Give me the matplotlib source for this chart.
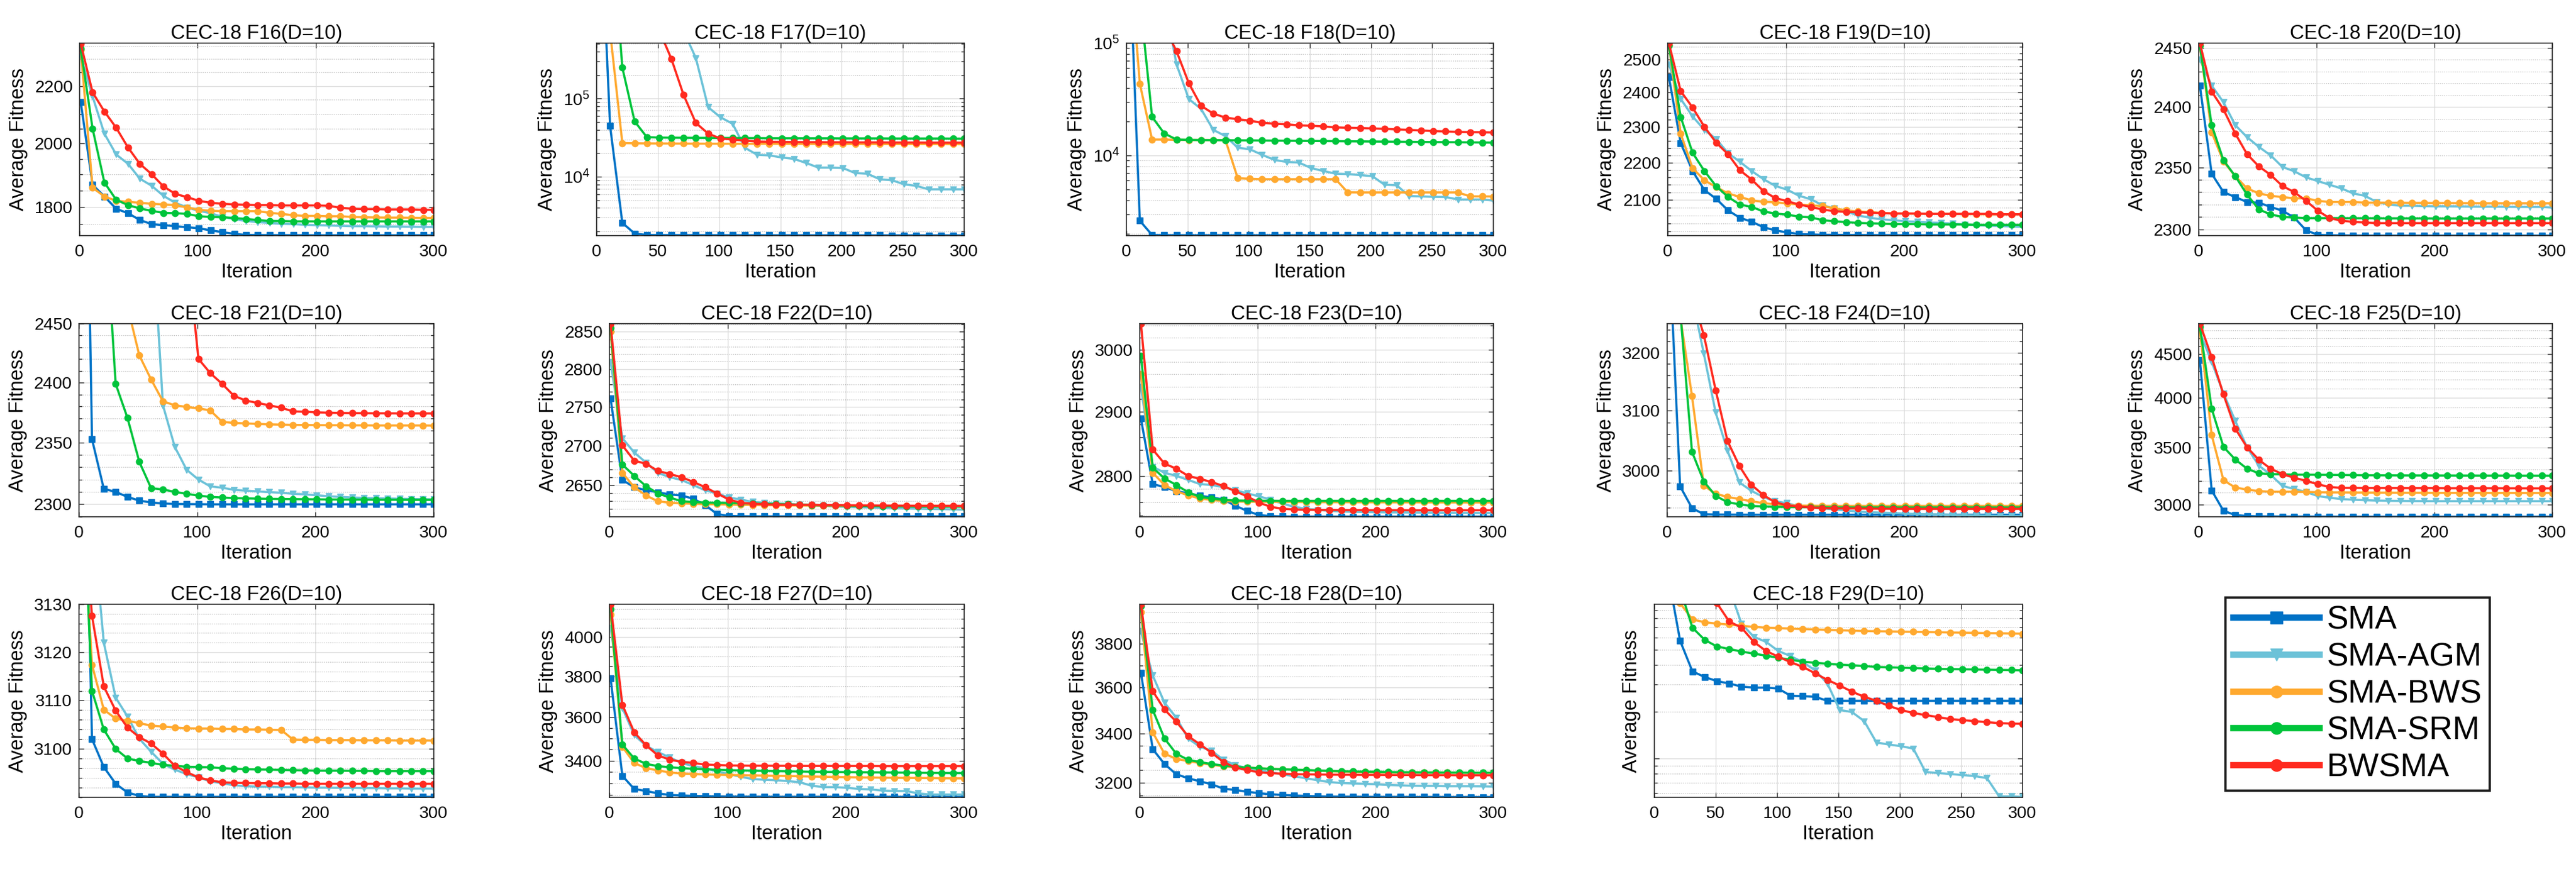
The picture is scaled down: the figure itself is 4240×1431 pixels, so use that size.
import numpy as np
import matplotlib
matplotlib.use('Agg')
import matplotlib.pyplot as plt
from matplotlib import ticker

plt.rcParams['font.family'] = ['Liberation Sans', 'DejaVu Sans']
plt.rcParams['mathtext.fontset'] = 'custom'
plt.rcParams['mathtext.rm'] = 'Liberation Sans'
plt.rcParams['mathtext.it'] = 'Liberation Sans:italic'

# ---------------- data ----------------
ITER = list(range(1, 300, 10)) + [300]
ALGOS = ['SMA', 'SMA-AGM', 'SMA-BWS', 'SMA-SRM', 'BWSMA']
FUNCS = ['F16', 'F17', 'F18', 'F19', 'F20', 'F21', 'F22', 'F23', 'F24', 'F25',
         'F26', 'F27', 'F28', 'F29']

F16_SMA = [2142, 1868, 1832, 1795, 1782, 1762, 1750, 1747, 1744, 1741, 1738, 1732, 1727, 1722, 1719,
           1718.6, 1718.4, 1718.3, 1718.2, 1718.1, 1718, 1718, 1718, 1718, 1718, 1718, 1718, 1718, 1718, 1718, 1718]
F16_AGM = [2311, 2162, 2033, 1964, 1934, 1887, 1865, 1834, 1813, 1799, 1789, 1782, 1771, 1765, 1759, 1756,
           1753, 1751, 1750, 1748, 1747, 1746, 1745, 1744, 1744, 1743.5, 1743, 1743, 1742.5, 1742, 1742]
F16_BWS = [2335, 1859, 1832, 1819, 1816, 1813, 1810, 1808, 1806, 1799, 1792, 1789, 1788, 1788, 1788, 1788,
           1783, 1780, 1776, 1774, 1774, 1773, 1773, 1771, 1770, 1769.5, 1769, 1769, 1768.5, 1768, 1768]
F16_SRM = [2340, 2050, 1875, 1822, 1806, 1796, 1789, 1783, 1782, 1780, 1773, 1771, 1770, 1768, 1765, 1762,
           1759, 1759, 1758, 1758, 1758, 1758, 1758, 1758, 1758, 1758, 1758, 1758, 1758, 1758, 1758]
F16_BWSMA = [2360, 2177, 2109, 2053, 1987, 1934, 1901, 1863, 1840, 1830, 1819, 1813, 1810, 1808, 1807, 1806,
             1806, 1805, 1805, 1805, 1805, 1804, 1798, 1795, 1794, 1794, 1793, 1793, 1793, 1792, 1792]

F17_SMA = [1.5e8, 44600, 2570, 1880, 1800, 1795, 1793, 1791, 1790, 1789, 1788, 1787, 1786, 1786, 1785, 1785,
           1784, 1784, 1783, 1783, 1783, 1782, 1782, 1782, 1781, 1781, 1781, 1780, 1780, 1780, 1780]
F17_AGM = [1e8, 5e7, 2e7, 1e7, 5e6, 3e6, 1.5e6, 7.3e5, 330000, 77800, 57700, 47600, 23500, 19100, 18750, 17660,
           16930, 15010, 13090, 13090, 12930, 11140, 10940, 9300, 9030, 8010, 7640, 6900, 6900, 6900, 6900]
F17_BWS = [1e8, 7.2e5, 27000, 26800, 26700, 26650, 26600, 26550, 26500, 26500, 26450, 26450, 26400, 26400,
           26400, 26350, 26350, 26300, 26300, 26300, 26250, 26250, 26250, 26200, 26200, 26200, 26200, 26150,
           26150, 26100, 26100]
F17_SRM = [1e8, 3e7, 249000, 51200, 32100, 31700, 31600, 31500, 31400, 31400, 31300, 31300, 31200, 31200,
           31100, 31100, 31100, 31000, 31000, 31000, 30900, 30900, 30900, 30900, 30800, 30800, 30800, 30800,
           30800, 30700, 30700]
F17_BWSMA = [1e8, 5e7, 1e7, 5e6, 2e6, 7.5e5, 323000, 111000, 48800, 35700, 30800, 29900, 29000, 28200, 28000,
             27900, 27800, 27700, 27700, 27600, 27600, 27500, 27500, 27500, 27400, 27400, 27400, 27300, 27300,
             27300, 27300]

F18_SMA = [1.7e6, 2620, 1955, 1948, 1946, 1945, 1945, 1945, 1945, 1945, 1945, 1945, 1945, 1945, 1945, 1945,
           1945, 1945, 1945, 1945, 1945, 1945, 1945, 1945, 1945, 1945, 1945, 1945, 1945, 1945, 1945]
F18_AGM = [1e6, 7e5, 4e5, 2.5e5, 64600, 31800, 26000, 16900, 14850, 11720, 11330, 10120, 9120, 8750, 8640,
           7720, 7260, 6880, 6820, 6680, 6540, 5490, 5420, 4350, 4315, 4280, 4260, 4050, 4050, 4050, 3970]
F18_BWS = [1e6, 43500, 13840, 13840, 13750, 13720, 13700, 13700, 13690, 6270, 6190, 6140, 6140, 6140, 6140,
           6140, 6140, 6140, 4690, 4680, 4680, 4680, 4680, 4680, 4680, 4680, 4680, 4680, 4320, 4315, 4310]
F18_SRM = [1e6, 2.5e5, 22070, 15670, 13840, 13750, 13700, 13680, 13650, 13620, 13600, 13570, 13540, 13510,
           13480, 13450, 13420, 13390, 13360, 13330, 13300, 13270, 13240, 13210, 13180, 13150, 13120, 13090,
           13060, 13030, 13000]
F18_BWSMA = [1e6, 5e5, 2.5e5, 1.4e5, 84700, 44000, 27700, 23580, 21700, 21000, 20370, 19540, 19150, 18920,
             18530, 18370, 18130, 17770, 17620, 17540, 17390, 17250, 17040, 16890, 16680, 16470, 16340, 16200,
             16130, 16070, 16000]

F19_SMA = [2446, 2254, 2177, 2126, 2103, 2073, 2054, 2044, 2030, 2022, 2017, 2013, 2012, 2011, 2011, 2010.5,
           2010.5, 2010.3, 2010.2, 2010.1, 2010, 2010, 2010, 2010, 2010, 2010, 2010, 2010, 2010, 2010, 2010]
F19_AGM = [2486, 2381, 2330, 2291, 2265, 2226, 2202, 2177, 2155, 2137, 2127, 2111, 2102, 2086, 2078, 2070,
           2060, 2054, 2050, 2048, 2045, 2044, 2042, 2041, 2039, 2037, 2035, 2034, 2033, 2032, 2031]
F19_BWS = [2547, 2280, 2185, 2152, 2134, 2117, 2108, 2099, 2095, 2094, 2091, 2088, 2086, 2084, 2078, 2073,
           2070, 2069, 2066, 2065, 2065, 2064.5, 2064, 2064, 2064, 2063.5, 2063.5, 2063, 2063, 2063, 2063]
F19_SRM = [2545, 2328, 2227, 2177, 2136, 2108, 2088, 2082, 2070, 2065, 2062, 2057, 2055, 2048, 2045, 2043,
           2041, 2040, 2039, 2038, 2038, 2038, 2037, 2037, 2037, 2037, 2036, 2036, 2036, 2036, 2036]
F19_BWSMA = [2552, 2404, 2356, 2300, 2255, 2223, 2179, 2154, 2123, 2105, 2097, 2088, 2082, 2075, 2071, 2069,
             2068, 2067, 2066, 2065, 2065, 2065, 2064, 2064, 2064, 2064, 2064, 2064, 2063, 2063, 2063]

F20_SMA = [2418, 2345, 2330, 2326, 2322, 2321.5, 2318, 2315, 2309.5, 2299.3, 2295.6, 2295.3, 2295.2, 2295.1,
           2295, 2295, 2295, 2295, 2295, 2295, 2295, 2295, 2295, 2295, 2295, 2295, 2295, 2295, 2295, 2295, 2295]
F20_AGM = [2440, 2418, 2404, 2385, 2375, 2367, 2360, 2350.5, 2347, 2342, 2339, 2336, 2333, 2329, 2327, 2322,
           2320, 2319, 2319, 2318.7, 2318.5, 2318.5, 2318.4, 2318.3, 2318.2, 2318.2, 2318.1, 2318, 2318, 2318,
           2317.5]
F20_BWS = [2452, 2379, 2355, 2343, 2333, 2329, 2327, 2326, 2325, 2325, 2323, 2322, 2322, 2322, 2321.5, 2321.5,
           2321.5, 2321.4, 2321.3, 2321.3, 2321.2, 2321.2, 2321.1, 2321.1, 2321, 2321, 2321, 2321, 2321, 2321,
           2321]
F20_SRM = [2452, 2385, 2356, 2343, 2328, 2316, 2312, 2310, 2309.5, 2309, 2309, 2309, 2309, 2308.9, 2308.9,
           2308.9, 2308.8, 2308.8, 2308.8, 2308.8, 2308.7, 2308.7, 2308.7, 2308.7, 2308.7, 2308.7, 2308.7,
           2308.7, 2308.7, 2308.7, 2308.7]
F20_BWSMA = [2454, 2413, 2398, 2378, 2361, 2351, 2344, 2335, 2330, 2323, 2315, 2309, 2307, 2306, 2305.5, 2305,
             2305, 2305, 2305, 2305, 2305, 2305, 2305, 2305, 2305, 2305, 2305, 2305, 2305, 2305, 2305]

F21_SMA = [3000, 2353, 2312.5, 2310, 2306, 2303, 2301.5, 2300.7, 2300.3, 2300.2, 2300.1, 2300, 2300, 2300,
           2300, 2300, 2300, 2300, 2300, 2300, 2300, 2300, 2300, 2300, 2300, 2300, 2300, 2300, 2300, 2300, 2300]
F21_AGM = [3000, 2900, 2800, 2700, 2650, 2600, 2551, 2381, 2346.7, 2328, 2320, 2314.5, 2313.4, 2311.7, 2311,
           2310.4, 2309.8, 2309.3, 2308.5, 2308, 2307.3, 2306.5, 2306, 2305.5, 2305.2, 2304.9, 2304.7, 2304.5,
           2304.3, 2304.1, 2304]
F21_BWS = [3000, 2800, 2600, 2520, 2465, 2423, 2402.6, 2384.4, 2381, 2379.7, 2378.5, 2376.8, 2367.3, 2366.4,
           2366, 2365.6, 2365.2, 2365, 2364.8, 2364.7, 2364.6, 2364.5, 2364.5, 2364.4, 2364.4, 2364.3, 2364.3,
           2364.3, 2364.3, 2364.3, 2364.2]
F21_SRM = [3000, 2800, 2564, 2399, 2370.6, 2334.5, 2313, 2312, 2310, 2308.5, 2307, 2306, 2305.5, 2305, 2304.8,
           2304.6, 2304.4, 2304.3, 2304.2, 2304.1, 2304, 2303.9, 2303.9, 2303.8, 2303.8, 2303.7, 2303.7, 2303.7,
           2303.6, 2303.6, 2303.6]
F21_BWSMA = [3000, 2950, 2900, 2850, 2800, 2750, 2700, 2650, 2600, 2520, 2420, 2408, 2399, 2389, 2385, 2383,
             2381, 2379, 2376, 2375.7, 2375.2, 2374.9, 2374.7, 2374.6, 2374.5, 2374.4, 2374.4, 2374.3, 2374.3,
             2374.3, 2374.3]

F22_SMA = [2761, 2656.5, 2647.4, 2643.5, 2641, 2638.3, 2637, 2633, 2625, 2614, 2611.5, 2611.2, 2611, 2611,
           2611, 2611, 2611, 2611, 2611, 2611, 2611, 2611, 2611, 2611, 2611, 2611, 2611, 2611, 2611, 2611, 2611]
F22_AGM = [2809.5, 2709.7, 2691.4, 2678.5, 2665.5, 2660, 2656.5, 2650, 2643.5, 2639.6, 2634.5, 2632, 2629,
           2628, 2627, 2626.7, 2625.4, 2624.6, 2624, 2623.3, 2622.8, 2622.3, 2622, 2621.5, 2621, 2620.7, 2620.5,
           2620.2, 2620, 2619.7, 2619.4]
F22_BWS = [2850, 2665.5, 2647.4, 2637, 2629.8, 2628, 2627.2, 2626.7, 2626.2, 2626, 2625.7, 2625.4, 2625.2,
           2625, 2624.8, 2624.6, 2624.5, 2624.4, 2624.3, 2624.2, 2624.1, 2624, 2624, 2623.9, 2623.9, 2623.8,
           2623.8, 2623.7, 2623.7, 2623.6, 2623.6]
F22_SRM = [2855, 2676, 2661.7, 2648.7, 2639.6, 2634.5, 2629.8, 2628.8, 2628.2, 2628, 2627.7, 2627.4, 2627,
           2626.7, 2626.4, 2626, 2625.6, 2625.2, 2624.9, 2624.6, 2624.3, 2624, 2623.8, 2623.6, 2623.4, 2623.3,
           2623.2, 2623.1, 2623, 2623, 2623]
F22_BWSMA = [2861, 2700.5, 2681, 2677, 2668, 2664, 2660, 2654, 2647.4, 2639.6, 2632, 2628, 2626.7, 2626,
             2625.6, 2625.6, 2625.3, 2625.3, 2625, 2625, 2624.8, 2624.7, 2624.6, 2624.5, 2624.4, 2624.3, 2624.2,
             2624.2, 2624.1, 2624.1, 2624]

F23_SMA = [2889, 2787.5, 2782.8, 2776.6, 2773.4, 2769.7, 2767.2, 2764, 2754.7, 2746.9, 2740.6, 2739, 2738.5,
           2738.3, 2738.3, 2738.3, 2738.3, 2738.3, 2738.3, 2738.3, 2738.3, 2738.3, 2738.3, 2738.3, 2738.3,
           2738.3, 2738.3, 2738.3, 2738.3, 2738.3, 2738.3]
F23_AGM = [2939.3, 2814, 2804.7, 2800, 2793.8, 2787.5, 2786, 2782.8, 2778.1, 2773.4, 2768.8, 2764, 2757.8,
           2753, 2750, 2748.4, 2746.9, 2746, 2745.3, 2745, 2744.8, 2744.6, 2744.5, 2744.4, 2744.3, 2744.2,
           2744.1, 2744, 2743.9, 2743.8, 2743.8]
F23_BWS = [2960, 2804.7, 2786, 2776.6, 2770.3, 2765.6, 2763.4, 2761.6, 2761, 2760.8, 2760.6, 2760.5, 2760.4,
           2760.3, 2760.2, 2760.1, 2760, 2760, 2759.9, 2759.9, 2759.8, 2759.8, 2759.7, 2759.7, 2759.6, 2759.6,
           2759.5, 2759.5, 2759.4, 2759.4, 2759.4]
F23_SRM = [2990, 2812.5, 2796, 2786, 2775, 2768, 2765.6, 2763.4, 2762.5, 2762.3, 2762.2, 2762.1, 2762, 2762,
           2762, 2762, 2762, 2762, 2762, 2762, 2762, 2762, 2762, 2762, 2762, 2762, 2762, 2762, 2762, 2762, 2762]
F23_BWSMA = [3043, 2840.6, 2818.8, 2811, 2800, 2795.3, 2790.6, 2784.4, 2776.6, 2768.8, 2759.4, 2753, 2750,
             2749, 2748.4, 2748.3, 2748.2, 2748.1, 2748, 2748, 2747.9, 2747.9, 2747.9, 2747.8, 2747.8, 2747.8,
             2747.8, 2747.8, 2747.8, 2747.8, 2747.8]

F24_SMA = [3430, 2974, 2939, 2929, 2928.6, 2928.5, 2928.4, 2928.3, 2928.3, 2928.3, 2928.3, 2928.3, 2928.3,
           2928.3, 2928.3, 2928.3, 2928.3, 2928.3, 2928.3, 2928.3, 2928.3, 2928.3, 2928.3, 2928.3, 2928.3,
           2928.3, 2928.3, 2928.3, 2928.3, 2928.3, 2928.3]
F24_AGM = [3500, 3400, 3300, 3198, 3096.6, 3032.7, 2980.5, 2967, 2957, 2950, 2947, 2941.7, 2940, 2938.4,
           2936.7, 2935, 2933.3, 2932.3, 2931.6, 2931, 2930, 2929.4, 2929, 2928.7, 2928, 2927.4, 2927, 2926.7,
           2926.3, 2926, 2925.8]
F24_BWS = [3500, 3265, 3124.6, 2975.4, 2962, 2957, 2953.5, 2950, 2947, 2945, 2943.4, 2943, 2942.8, 2942.6,
           2942.4, 2942.4, 2942.4, 2942.4, 2942.4, 2942.4, 2942.4, 2942.4, 2942.4, 2942.4, 2942.4, 2942.4,
           2942.4, 2942.4, 2942.4, 2942.4, 2942.4]
F24_SRM = [3500, 3275, 3031, 2982, 2958.6, 2948.5, 2945, 2942.4, 2941.7, 2941, 2940.7, 2940.4, 2940.2, 2940.1,
           2940, 2940, 2940, 2940, 2940, 2940, 2940, 2940, 2940, 2940, 2940, 2940, 2940, 2940, 2940, 2940, 2940]
F24_BWSMA = [3500, 3400, 3300, 3231, 3134.8, 3048.8, 3007.4, 2977, 2960.3, 2948.5, 2943.4, 2941.7, 2940, 2939,
             2938.4, 2938.4, 2938.2, 2938, 2937.9, 2937.8, 2937.7, 2937.7, 2937.7, 2937.7, 2937.7, 2937.7,
             2937.7, 2937.7, 2937.7, 2937.7, 2937.7]

F25_SMA = [4426, 3117, 2950, 2917, 2909, 2906, 2906, 2905, 2905, 2905, 2904.5, 2904.5, 2904, 2904, 2904, 2904,
           2904, 2904, 2904, 2904, 2904, 2904, 2904, 2904, 2904, 2904, 2904, 2904, 2904, 2904, 2904]
F25_AGM = [4774, 4408, 4050, 3760, 3501, 3333, 3252, 3155, 3129, 3104, 3070, 3056, 3045, 3040, 3036, 3033,
           3031, 3030, 3029, 3028.5, 3028, 3028, 3028, 3028, 3028, 3028, 3028, 3028, 3028, 3028, 3028]
F25_BWS = [4800, 3619, 3204, 3141, 3124, 3111, 3106, 3106, 3106, 3104, 3102, 3100, 3100, 3099, 3099, 3098,
           3098, 3097, 3097, 3097, 3096, 3096, 3096, 3096, 3095.5, 3095.5, 3095.5, 3095, 3095, 3095, 3095]
F25_SRM = [4850, 3886, 3505, 3388, 3305, 3264, 3257, 3255, 3252, 3252, 3251, 3250, 3249, 3248, 3247, 3246.5,
           3246, 3245.5, 3245, 3245, 3244.5, 3244.5, 3244, 3244, 3243.5, 3243.5, 3243.5, 3243, 3243, 3243, 3243]
F25_BWSMA = [4886, 4464, 4038, 3682, 3501, 3385, 3305, 3257, 3225, 3199, 3169, 3146, 3138, 3138, 3137, 3137,
             3137, 3136, 3136, 3136, 3136, 3135, 3135, 3135, 3135, 3135, 3134.5, 3134.5, 3134, 3134, 3134]

F26_SMA = [3210, 3102, 3096.25, 3092.8, 3091, 3090.3, 3090.1, 3090.1, 3090.1, 3090.1, 3090.1, 3090.1, 3090.1,
           3090.1, 3090.1, 3090.1, 3090.1, 3090.1, 3090.1, 3090.1, 3090.1, 3090.1, 3090.1, 3090.1, 3090.1,
           3090.1, 3090.1, 3090.1, 3090.1, 3090.1, 3090.1]
F26_AGM = [3180, 3149, 3122, 3110.6, 3106.7, 3102.1, 3099.4, 3096.9, 3095.7, 3094.8, 3094.1, 3093.3, 3092.9,
           3092.5, 3092.3, 3092.2, 3092.2, 3092.1, 3092.1, 3092.05, 3092, 3092, 3091.95, 3091.95, 3091.9, 3091.9,
           3091.85, 3091.85, 3091.8, 3091.8, 3091.8]
F26_BWS = [3160, 3117.4, 3108.1, 3106.25, 3105.8, 3105.3, 3104.8, 3104.6, 3104.4, 3104.25, 3104.2, 3104.2,
           3104.1, 3104.1, 3104, 3104, 3103.95, 3103.9, 3101.9, 3101.85, 3101.85, 3101.8, 3101.8, 3101.8,
           3101.75, 3101.75, 3101.75, 3101.7, 3101.7, 3101.7, 3101.7]
F26_SRM = [3167, 3112, 3104, 3100, 3098, 3097.5, 3097.1, 3096.7, 3096.5, 3096.3, 3096.25, 3096.2, 3096, 3095.9,
           3095.8, 3095.75, 3095.7, 3095.65, 3095.6, 3095.55, 3095.5, 3095.5, 3095.5, 3095.45, 3095.45, 3095.4,
           3095.4, 3095.4, 3095.4, 3095.4, 3095.4]
F26_BWSMA = [3160, 3127.6, 3112.9, 3107.9, 3104.4, 3102.4, 3101.1, 3099, 3096.5, 3095.2, 3094.1, 3093.5,
             3093.1, 3093, 3092.95, 3092.9, 3092.9, 3092.85, 3092.85, 3092.8, 3092.8, 3092.8, 3092.8, 3092.8,
             3092.8, 3092.8, 3092.8, 3092.8, 3092.8, 3092.8, 3092.8]

F27_SMA = [3790, 3333, 3276, 3267, 3257, 3250, 3248, 3246, 3245, 3244, 3243, 3243, 3242.5, 3242.5, 3242, 3242,
           3242, 3242, 3242, 3242, 3242, 3242, 3242, 3242, 3242, 3242, 3242, 3242, 3242, 3242, 3242]
F27_AGM = [4051, 3645, 3517, 3468, 3439, 3415, 3390, 3376, 3367, 3352, 3341, 3329, 3319, 3316, 3314, 3310,
           3305, 3290, 3284, 3284, 3281, 3276, 3274, 3269, 3267, 3267, 3257, 3252, 3252, 3252, 3252]
F27_BWS = [4120, 3463, 3390, 3367, 3357, 3348, 3343, 3341, 3339, 3338, 3337, 3336, 3335, 3334, 3333, 3332,
           3331, 3330, 3329, 3328, 3327, 3326, 3325.5, 3325, 3324.5, 3324, 3323.5, 3323, 3322.5, 3322, 3322]
F27_SRM = [4150, 3473, 3410, 3386, 3376, 3371, 3367, 3364, 3362, 3360, 3358, 3357, 3356, 3355, 3354, 3353,
           3352, 3351, 3350.5, 3350, 3349.5, 3349, 3348.5, 3348, 3347.5, 3347, 3346.5, 3346, 3345.5, 3345, 3345]
F27_BWSMA = [4178, 3660, 3530, 3470, 3424, 3405, 3395, 3390, 3383, 3381, 3379, 3378.5, 3378, 3378, 3377.5,
             3377.5, 3377, 3377, 3377, 3376.5, 3376.5, 3376.5, 3376.5, 3376, 3376, 3376, 3376, 3376, 3376, 3376,
             3376]

F28_SMA = [3667, 3336, 3275, 3234, 3218, 3206, 3194, 3177, 3171.6, 3165, 3159, 3155, 3152.4, 3150, 3148.6,
           3147, 3146, 3145.5, 3145.5, 3144.7, 3144.7, 3144.5, 3144.5, 3144.3, 3144.3, 3144.2, 3144.2, 3144.1,
           3144.1, 3144, 3144]
F28_AGM = [3859, 3654, 3533, 3468, 3380, 3346, 3329, 3292, 3271, 3258, 3251, 3242, 3234, 3226, 3218, 3210,
           3203, 3199, 3197.6, 3196, 3194, 3191.4, 3190, 3188.5, 3188, 3188, 3186.5, 3186.5, 3186.5, 3186, 3185]
F28_BWS = [3950, 3406, 3317, 3296, 3287, 3279, 3272, 3266, 3262, 3261, 3258, 3255.6, 3254, 3251.5, 3250,
           3248.5, 3246, 3244.6, 3243.8, 3243, 3242, 3241, 3241, 3240.6, 3240.6, 3240, 3240, 3239.6, 3239.6,
           3239.6, 3239.3]
F28_SRM = [3980, 3502, 3380, 3317, 3292, 3283, 3275, 3269, 3264, 3261, 3258, 3255.6, 3254, 3252.4, 3251, 3249,
           3247.7, 3246, 3245, 3244.6, 3243.8, 3243, 3242, 3242, 3241, 3241, 3240.6, 3240.6, 3240, 3240, 3240]
F28_BWSMA = [3990, 3584, 3503, 3451, 3390, 3356, 3321, 3283, 3261, 3250.6, 3242, 3238, 3236.5, 3234, 3233.5,
             3233, 3232.5, 3232, 3232, 3231.5, 3231.5, 3231, 3231, 3231, 3230.5, 3230.5, 3230.5, 3230, 3230,
             3230, 3230]

F29_SMA = [50000, 15600, 5728, 3648, 3354, 3157, 3046, 2911, 2867, 2867, 2825, 2542, 2527, 2504, 2358, 2358,
           2358, 2358, 2358, 2358, 2358, 2358, 2358, 2358, 2358, 2358, 2358, 2358, 2358, 2358, 2358]
F29_AGM = [50000, 40000, 30000, 25000, 20000, 15000, 12450, 7392, 6082, 5644, 4930, 4572, 4178, 3704, 3046,
           2059, 1998, 1745, 1272, 1235, 1205, 1163, 822, 810, 798, 786, 774, 751, 573, 573, 568]
F29_BWS = [50000, 20000, 10000, 7860, 7550, 7392, 7290, 7160, 7050, 6963, 6924, 6860, 6820, 6780, 6742, 6700,
           6661, 6625, 6605, 6585, 6561, 6545, 6525, 6505, 6485, 6465, 6445, 6425, 6405, 6385, 6368]
F29_SRM = [50000, 25000, 12400, 6966, 5816, 5267, 5082, 4886, 4742, 4600, 4462, 4330, 4212, 4137, 4086, 4027,
           3990, 3943, 3895, 3872, 3850, 3828, 3805, 3782, 3771, 3760, 3749, 3737, 3726, 3715, 3704]
F29_BWSMA = [50000, 40000, 30000, 20000, 15000, 10000, 7627, 6966, 5644, 4930, 4531, 4178, 3898, 3540, 3215,
             2955, 2700, 2503, 2358, 2187, 2059, 1968, 1910, 1854, 1799, 1772, 1745, 1719, 1694, 1683, 1678]

# y-axis settings (limits, labelled ticks, minor step; absent = decade log ticks)
YLIM = {'F16': (1717, 2362), 'F17': (1766, 5.12e5), 'F18': (1931, 1e5), 'F19': (2009, 2552),
        'F20': (2295, 2454), 'F21': (2290, 2450), 'F22': (2610.5, 2861), 'F23': (2738, 3043),
        'F24': (2925, 3251), 'F25': (2903, 4886), 'F26': (3090, 3130), 'F27': (3240, 4178),
        'F28': (3143, 3990), 'F29': (565, 9850)}
YTICKS = {'F16': [1800, 2000, 2200], 'F19': [2100, 2200, 2300, 2400, 2500],
          'F20': [2300, 2350, 2400, 2450], 'F21': [2300, 2350, 2400, 2450],
          'F22': [2650, 2700, 2750, 2800, 2850], 'F23': [2800, 2900, 3000],
          'F24': [3000, 3100, 3200], 'F25': [3000, 3500, 4000, 4500],
          'F26': [3100, 3110, 3120, 3130], 'F27': [3400, 3600, 3800, 4000],
          'F28': [3200, 3400, 3600, 3800]}
YMINOR = {'F16': 50, 'F19': 20, 'F20': 10, 'F21': 10, 'F22': 10, 'F23': 20, 'F24': 20,
          'F25': 100, 'F26': 2, 'F27': 50, 'F28': 50}
XTICKS_FINE = ['F17', 'F18', 'F29']
NO_YLABELS = ['F29']

# ---------------- style ----------------
COLORS = ['#0072C6', '#6CC2D8', '#FFA92F', '#00C43B', '#FF2A1F']
MARKERS = ['s', 'v', 'o', 'o', 'o']
W, H = 4240, 1431
ROWS = {0: (71, 388), 1: (533, 851), 2: (995, 1313)}
LEFTS = [131, 982, 1854, 2745, 3619, 130, 1003, 1876, 2744, 3619, 130, 1003, 1876, 2723]
RIGHTS = [714, 1587, 2458, 3329, 4201]
AXCOL = '#262626'

fig = plt.figure(figsize=(W / 100, H / 100), dpi=100)
fig.patch.set_facecolor('white')

g = globals()
handles = None
for k, fn in enumerate(FUNCS):
    r, c = divmod(k, 5)
    t, b = ROWS[r]
    l, rr = LEFTS[k], RIGHTS[c]
    ax = fig.add_axes([l / W, 1 - b / H, (rr - l) / W, (b - t) / H])
    series = [g[f'{fn}_SMA'], g[f'{fn}_AGM'], g[f'{fn}_BWS'], g[f'{fn}_SRM'], g[f'{fn}_BWSMA']]
    lines = []
    for vals, col, mk, name in zip(series, COLORS, MARKERS, ALGOS):
        ln, = ax.plot(ITER, vals, color=col, marker=mk, markersize=7.5, linewidth=2.6,
                      markerfacecolor=col, markeredgecolor=col, label=name)
        lines.append(ln)
    if handles is None:
        handles = lines
    ax.set_yscale('log')
    ax.set_xlim(0, 300)
    ax.set_ylim(*YLIM[fn])
    if fn in XTICKS_FINE:
        ax.set_xticks([0, 50, 100, 150, 200, 250, 300])
    else:
        ax.set_xticks([0, 100, 200, 300])
    if fn in YTICKS:
        ax.set_yticks(YTICKS[fn], [str(v) for v in YTICKS[fn]])
        lo, hi = YLIM[fn]
        st = YMINOR[fn]
        mins = [v for v in np.arange(np.ceil(lo / st) * st, hi + 1e-9, st)
                if not any(abs(v - m) < 1e-6 for m in YTICKS[fn])]
        ax.yaxis.set_minor_locator(ticker.FixedLocator(mins))
        ax.yaxis.set_minor_formatter(ticker.NullFormatter())
    else:
        ax.yaxis.set_major_locator(ticker.LogLocator(base=10, numticks=20))
        ax.yaxis.set_minor_locator(ticker.LogLocator(base=10, subs=np.arange(2, 10), numticks=20))
        ax.yaxis.set_minor_formatter(ticker.NullFormatter())
        if fn in NO_YLABELS:
            ax.yaxis.set_major_formatter(ticker.NullFormatter())
        else:
            ax.yaxis.set_major_formatter(ticker.LogFormatterSciNotation())
    ax.set_axisbelow(True)
    ax.grid(True, which='major', axis='both', color='#dcdcdc', linewidth=1.0, linestyle='-')
    ax.grid(True, which='minor', axis='y', color='#b8b8b8', linewidth=0.9, linestyle=(0, (1, 1.5)))
    ax.tick_params(which='both', direction='in', top=True, right=True, colors=AXCOL,
                   labelcolor='black', labelsize=20.3, width=1.0)
    ax.tick_params(which='major', length=6)
    ax.tick_params(which='minor', length=3.5)
    ax.tick_params(axis='x', pad=10)
    ax.tick_params(axis='y', pad=8)
    for sp in ax.spines.values():
        sp.set_color(AXCOL)
        sp.set_linewidth(1.2)
    ax.set_title(f'CEC-18 {fn}(D=10)', fontsize=23.5, pad=5)
    ax.set_xlabel('Iteration', fontsize=23.5, labelpad=4)
    ax.set_ylabel('Average Fitness', fontsize=23.5, labelpad=8)

leg = fig.legend(handles, ALGOS, loc='upper left', bbox_to_anchor=(3663 / W, 1 - 984 / H),
                 bbox_transform=fig.transFigure, fontsize=38.5, frameon=True, fancybox=False,
                 edgecolor='#1a1a1a', framealpha=1, borderpad=0.24, labelspacing=0.2,
                 handlelength=2.65, handletextpad=0.22, borderaxespad=0)
leg.get_frame().set_linewidth(2.7)
for h in leg.legend_handles:
    h.set_linewidth(7.5)
    h.set_markersize(14)

fig.savefig('out.png', dpi=100, facecolor='white')
